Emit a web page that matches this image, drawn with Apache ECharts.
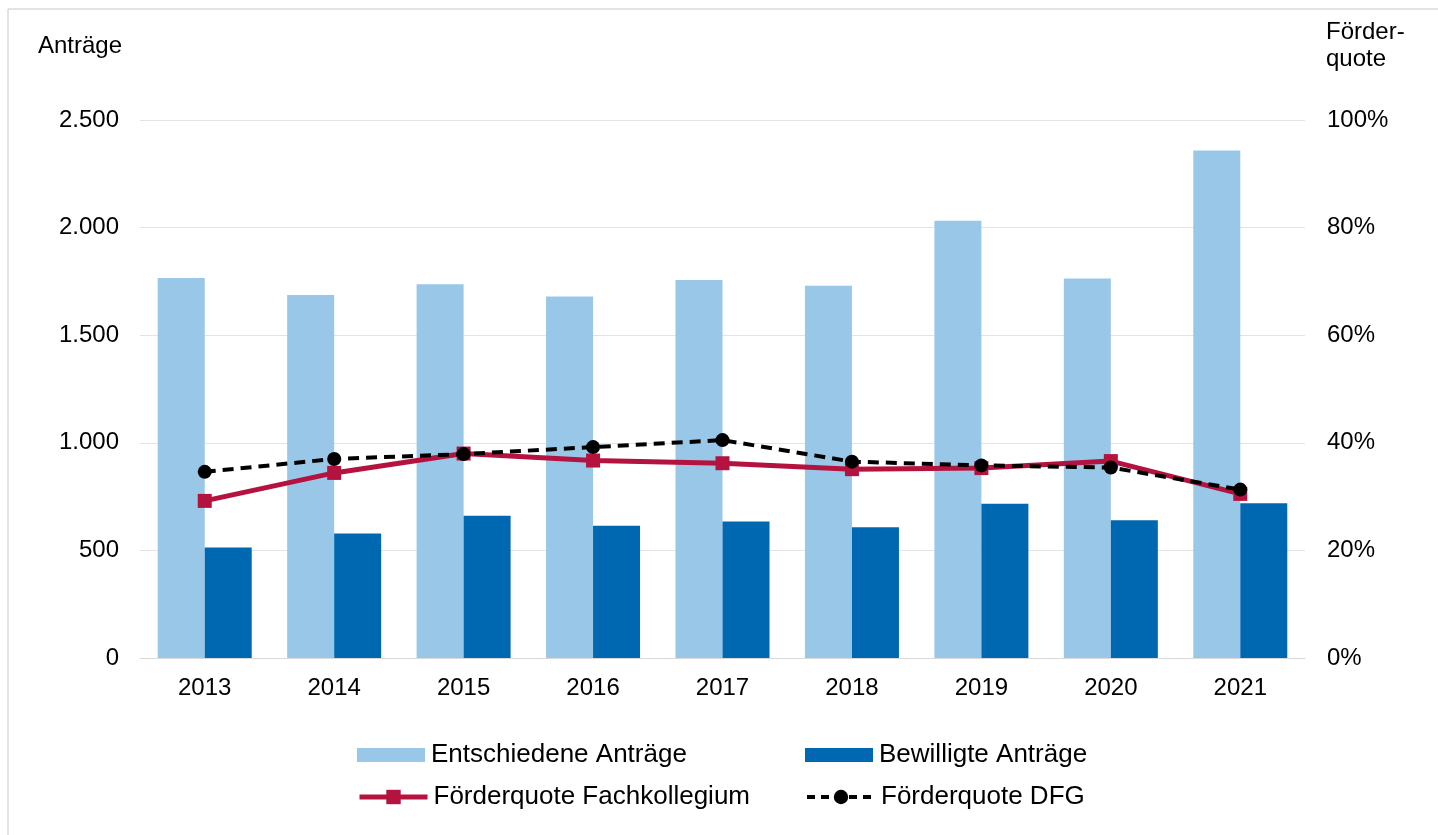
<!DOCTYPE html>
<html>
<head>
<meta charset="utf-8">
<script src="https://cdn.jsdelivr.net/npm/echarts@6/dist/echarts.min.js"></script>
<style>
html,body{margin:0;padding:0;background:#fff;}
#chart{width:1438px;height:835px;}
</style>
</head>
<body>
<div id="chart"></div>
<script>
const years = ['2013','2014','2015','2016','2017','2018','2019','2020','2021'];
const entschieden = [1766, 1687, 1737, 1680, 1757, 1730, 2032, 1763, 2358];
const bewilligt = [514, 578, 661, 615, 634, 607, 717, 640, 719];
const quoteFach = [29.2, 34.4, 38.0, 36.7, 36.2, 35.1, 35.3, 36.6, 30.5];
const quoteDFG = [34.6, 37.0, 37.9, 39.2, 40.5, 36.5, 35.8, 35.4, 31.3];
const leftTickLabels = ['0', '500', '1.000', '1.500', '2.000', '2.500'];
const rightTickLabels = ['0%', '20%', '40%', '60%', '80%', '100%'];
const seriesNames = ['Entschiedene Anträge', 'Bewilligte Anträge', 'Förderquote Fachkollegium', 'Förderquote DFG'];

const FONT = "'Liberation Sans', Arial, sans-serif";
const chart = echarts.init(document.getElementById('chart'), null, {renderer: 'canvas'});
const legendText = {fontFamily: FONT, fontSize: 26, color: '#000', lineHeight: 30, padding: [0, 0, 0, 1]};

const C_LIGHT = '#99C7E8', C_DARK = '#0068B0', C_RED = '#B5133F', C_BLACK = '#000';

function leg(left, top, item, h) {
  return {left: left, top: top, itemWidth: 68, itemHeight: h, data: [item], textStyle: legendText, selectedMode: false};
}

chart.setOption({
  animation: false,
  backgroundColor: '#fff',
  textStyle: {fontFamily: FONT},
  grid: {left: 140, right: 133, top: 120, bottom: 177, containLabel: false},
  graphic: [
    {type: 'rect', shape: {x: 8, y: 9, width: 1450, height: 850}, style: {fill: 'none', stroke: '#c8c8c8', lineWidth: 1}, silent: true},
    {type: 'text', x: 38, y: 46, style: {text: 'Anträge', fontFamily: FONT, fontSize: 24, fill: '#000', verticalAlign: 'middle'}},
    {type: 'text', x: 1326, y: 46, style: {text: 'Förder-\nquote', fontFamily: FONT, fontSize: 24, lineHeight: 27, fill: '#000', verticalAlign: 'middle'}}
  ],
  legend: [
    leg(352, 735, {name: seriesNames[0], icon: 'rect'}, 14),
    leg(800, 735, {name: seriesNames[1], icon: 'rect'}, 14),
    leg(352, 777, {name: seriesNames[2], lineStyle: {width: 5, color: C_RED}}, 18),
    leg(800, 777, {name: seriesNames[3], lineStyle: {width: 4, color: C_BLACK, type: [8, 6]}}, 18)
  ],
  xAxis: {
    type: 'category',
    data: years,
    axisLine: {show: true, lineStyle: {color: '#d9d9d9', width: 1}},
    axisTick: {show: false},
    axisLabel: {fontFamily: FONT, fontSize: 24, color: '#000', margin: 18}
  },
  yAxis: [
    {
      type: 'value', min: 0, max: 2500, interval: 500,
      axisLine: {show: false}, axisTick: {show: false},
      splitLine: {show: true, lineStyle: {color: '#e3e3e3', width: 1}},
      axisLabel: {fontFamily: FONT, fontSize: 24, color: '#000', margin: 21,
        formatter: (v, i) => leftTickLabels[i]}
    },
    {
      type: 'value', min: 0, max: 100, interval: 20,
      axisLine: {show: false}, axisTick: {show: false},
      splitLine: {show: false},
      axisLabel: {fontFamily: FONT, fontSize: 24, color: '#000', margin: 22,
        formatter: (v, i) => rightTickLabels[i]}
    }
  ],
  series: [
    {
      name: seriesNames[0], type: 'bar', data: entschieden, yAxisIndex: 0,
      barWidth: 47, barGap: '0%',
      itemStyle: {color: C_LIGHT}
    },
    {
      name: seriesNames[1], type: 'bar', data: bewilligt, yAxisIndex: 0,
      barWidth: 47, barGap: '0%',
      itemStyle: {color: C_DARK}
    },
    {
      name: seriesNames[2], type: 'line', data: quoteFach, yAxisIndex: 1,
      symbol: 'rect', symbolSize: 14,
      lineStyle: {color: C_RED, width: 5},
      itemStyle: {color: C_RED},
      z: 3
    },
    {
      name: seriesNames[3], type: 'line', data: quoteDFG, yAxisIndex: 1,
      symbol: 'circle', symbolSize: 14,
      lineStyle: {color: C_BLACK, width: 4, type: [11, 7]},
      itemStyle: {color: C_BLACK},
      z: 4
    }
  ]
});
</script>
</body>
</html>
